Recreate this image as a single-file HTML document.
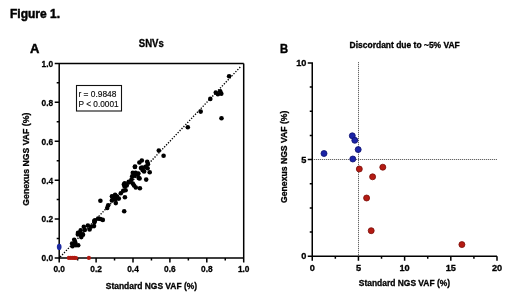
<!DOCTYPE html><html><head><meta charset="utf-8"><style>html,body{margin:0;padding:0;background:#fff;width:520px;height:295px;overflow:hidden}svg{display:block;will-change:transform}text{font-family:"Liberation Sans", sans-serif;font-weight:bold;fill:#000;stroke:#000;stroke-width:0.3px}</style></head><body>
<svg width="520" height="295" viewBox="0 0 520 295">
<rect width="520" height="295" fill="#fff"/>
<text x="10" y="18.1" font-size="13" textLength="50" lengthAdjust="spacingAndGlyphs" style="stroke-width:0.5px">Figure 1.</text>
<text x="30.1" y="52.8" font-size="13" style="stroke-width:0.45px">A</text>
<text x="280.0" y="52.8" font-size="13" textLength="8.1" lengthAdjust="spacingAndGlyphs" style="stroke-width:0.45px">B</text>
<text x="138.8" y="46.9" font-size="10" textLength="25" lengthAdjust="spacingAndGlyphs">SNVs</text>
<text x="349.6" y="48.2" font-size="8.4" textLength="110.2" lengthAdjust="spacingAndGlyphs">Discordant due to ~5% VAF</text>
<line x1="60.2" y1="257.0" x2="240.9325" y2="66.31900000000002" stroke="#000" stroke-width="1.35" stroke-dasharray="1.3 1.5"/>
<path d="M59.2 63.4V262.5 M54.7 258.0H243.7 M54.7 63.4H243.7 M243.7 63.4V262.5 M56.7 238.54H59.2 M77.65 258.0V260.5 M54.7 219.08H59.2 M96.10 258.0V262.5 M56.7 199.62H59.2 M114.55 258.0V260.5 M54.7 180.16H59.2 M133.00 258.0V262.5 M56.7 160.70H59.2 M151.45 258.0V260.5 M54.7 141.24H59.2 M169.90 258.0V262.5 M56.7 121.78H59.2 M188.35 258.0V260.5 M54.7 102.32H59.2 M206.80 258.0V262.5 M56.7 82.86H59.2 M225.25 258.0V260.5" stroke="#000" stroke-width="1.5" fill="none"/>
<circle cx="229.1" cy="76.30000000000001" r="2.3" fill="#000"/>
<circle cx="215.8" cy="92.60000000000001" r="2.3" fill="#000"/>
<circle cx="217.9" cy="94.30000000000001" r="2.3" fill="#000"/>
<circle cx="220.2" cy="91.2" r="2.3" fill="#000"/>
<circle cx="221.3" cy="93.80000000000001" r="2.3" fill="#000"/>
<circle cx="210.3" cy="98.9" r="2.3" fill="#000"/>
<circle cx="200.7" cy="111.60000000000001" r="2.3" fill="#000"/>
<circle cx="221.5" cy="118.2" r="2.3" fill="#000"/>
<circle cx="187.8" cy="127.30000000000001" r="2.3" fill="#000"/>
<circle cx="158.8" cy="150.5" r="2.3" fill="#000"/>
<circle cx="163.6" cy="155.7" r="2.3" fill="#000"/>
<circle cx="141.8" cy="160.5" r="2.3" fill="#000"/>
<circle cx="139.4" cy="162.5" r="2.3" fill="#000"/>
<circle cx="147.2" cy="161.8" r="2.3" fill="#000"/>
<circle cx="147.9" cy="164.2" r="2.3" fill="#000"/>
<circle cx="135" cy="166.6" r="2.3" fill="#000"/>
<circle cx="142.1" cy="167.6" r="2.3" fill="#000"/>
<circle cx="145.5" cy="166.9" r="2.3" fill="#000"/>
<circle cx="147.6" cy="168.3" r="2.3" fill="#000"/>
<circle cx="149.7" cy="172.2" r="2.3" fill="#000"/>
<circle cx="142.8" cy="170.3" r="2.3" fill="#000"/>
<circle cx="144.1" cy="171.4" r="2.3" fill="#000"/>
<circle cx="146.2" cy="179.6" r="2.3" fill="#000"/>
<circle cx="138" cy="174.1" r="2.3" fill="#000"/>
<circle cx="138.7" cy="177.9" r="2.3" fill="#000"/>
<circle cx="134.9" cy="167" r="2.3" fill="#000"/>
<circle cx="141" cy="168" r="2.3" fill="#000"/>
<circle cx="132.8" cy="172.8" r="2.3" fill="#000"/>
<circle cx="135.6" cy="172.8" r="2.3" fill="#000"/>
<circle cx="138.3" cy="173.5" r="2.3" fill="#000"/>
<circle cx="132.2" cy="176.2" r="2.3" fill="#000"/>
<circle cx="139.6" cy="178.5" r="2.3" fill="#000"/>
<circle cx="131.5" cy="179.6" r="2.3" fill="#000"/>
<circle cx="128.8" cy="181.9" r="2.3" fill="#000"/>
<circle cx="124.7" cy="183.3" r="2.3" fill="#000"/>
<circle cx="132.8" cy="183.6" r="2.3" fill="#000"/>
<circle cx="134.1" cy="185.5" r="2.3" fill="#000"/>
<circle cx="135.8" cy="187.5" r="2.3" fill="#000"/>
<circle cx="139.9" cy="188.2" r="2.3" fill="#000"/>
<circle cx="134.8" cy="175.8" r="2.3" fill="#000"/>
<circle cx="123.9" cy="184.4" r="2.3" fill="#000"/>
<circle cx="124.6" cy="186.4" r="2.3" fill="#000"/>
<circle cx="128.6" cy="182.4" r="2.3" fill="#000"/>
<circle cx="126.7" cy="185.5" r="2.3" fill="#000"/>
<circle cx="123.2" cy="190.8" r="2.3" fill="#000"/>
<circle cx="125.6" cy="190.2" r="2.3" fill="#000"/>
<circle cx="120.8" cy="193.2" r="2.3" fill="#000"/>
<circle cx="124.9" cy="197.3" r="2.3" fill="#000"/>
<circle cx="112" cy="196.3" r="2.3" fill="#000"/>
<circle cx="115.1" cy="194.9" r="2.3" fill="#000"/>
<circle cx="116.8" cy="196.3" r="2.3" fill="#000"/>
<circle cx="114.1" cy="198.3" r="2.3" fill="#000"/>
<circle cx="118.8" cy="198.6" r="2.3" fill="#000"/>
<circle cx="124.2" cy="211.2" r="2.3" fill="#000"/>
<circle cx="100.4" cy="200.8" r="2.3" fill="#000"/>
<circle cx="108.2" cy="205.3" r="2.3" fill="#000"/>
<circle cx="107.2" cy="208" r="2.3" fill="#000"/>
<circle cx="112.2" cy="196.8" r="2.3" fill="#000"/>
<circle cx="111.9" cy="200.5" r="2.3" fill="#000"/>
<circle cx="115.6" cy="199.2" r="2.3" fill="#000"/>
<circle cx="115.8" cy="203.1" r="2.3" fill="#000"/>
<circle cx="95.1" cy="220.3" r="2.3" fill="#000"/>
<circle cx="98.2" cy="218.6" r="2.3" fill="#000"/>
<circle cx="100.4" cy="219.0" r="2.3" fill="#000"/>
<circle cx="102.8" cy="219.9" r="2.3" fill="#000"/>
<circle cx="94.4" cy="222.3" r="2.3" fill="#000"/>
<circle cx="78" cy="232.9" r="2.3" fill="#000"/>
<circle cx="80.7" cy="230.2" r="2.3" fill="#000"/>
<circle cx="82.1" cy="234.3" r="2.3" fill="#000"/>
<circle cx="83.8" cy="226.8" r="2.3" fill="#000"/>
<circle cx="84.8" cy="229.9" r="2.3" fill="#000"/>
<circle cx="87.9" cy="225.5" r="2.3" fill="#000"/>
<circle cx="89.6" cy="229.5" r="2.3" fill="#000"/>
<circle cx="90.9" cy="226.8" r="2.3" fill="#000"/>
<circle cx="94" cy="226.1" r="2.3" fill="#000"/>
<circle cx="94.3" cy="220.7" r="2.3" fill="#000"/>
<circle cx="74.2" cy="239.8" r="2.3" fill="#000"/>
<circle cx="72.1" cy="243.5" r="2.3" fill="#000"/>
<circle cx="72.5" cy="246.2" r="2.3" fill="#000"/>
<circle cx="75.9" cy="245.2" r="2.3" fill="#000"/>
<circle cx="78.2" cy="245.2" r="2.3" fill="#000"/>
<circle cx="75.2" cy="242.2" r="2.3" fill="#000"/>
<circle cx="77.9" cy="234.4" r="2.3" fill="#000"/>
<circle cx="81.3" cy="237.1" r="2.3" fill="#000"/>
<circle cx="80.3" cy="234" r="2.3" fill="#000"/>
<circle cx="83" cy="234.7" r="2.3" fill="#000"/>
<ellipse cx="59.2" cy="246.9" rx="2.35" ry="3.1" fill="#1d2aa0"/>
<circle cx="68.8" cy="257.9" r="2.1" fill="#b01a12"/>
<circle cx="70.8" cy="257.9" r="2.1" fill="#b01a12"/>
<circle cx="72.8" cy="257.9" r="2.1" fill="#b01a12"/>
<circle cx="74.6" cy="257.9" r="2.1" fill="#b01a12"/>
<circle cx="76.0" cy="258.0" r="2.1" fill="#b01a12"/>
<circle cx="88.9" cy="257.9" r="2.1" fill="#b01a12"/>
<rect x="76.5" y="85.5" width="45" height="25.5" fill="#fff" stroke="#111" stroke-width="1.1"/>
<text x="78.4" y="96.6" font-size="8.9" font-weight="normal" style="font-weight:normal;stroke:#222;stroke-width:0.15px" textLength="38" lengthAdjust="spacingAndGlyphs">r = 0.9848</text>
<text x="78.6" y="107.1" font-size="8.9" font-weight="normal" style="font-weight:normal;stroke:#222;stroke-width:0.15px" textLength="40" lengthAdjust="spacingAndGlyphs">P &lt; 0.0001</text>
<text x="53.2" y="261.40" font-size="9.5" text-anchor="end" textLength="11.6" lengthAdjust="spacingAndGlyphs">0.0</text>
<text x="59.20" y="272.4" font-size="9.5" text-anchor="middle" textLength="11.6" lengthAdjust="spacingAndGlyphs">0.0</text>
<text x="53.2" y="222.48" font-size="9.5" text-anchor="end" textLength="11.6" lengthAdjust="spacingAndGlyphs">0.2</text>
<text x="96.10" y="272.4" font-size="9.5" text-anchor="middle" textLength="11.6" lengthAdjust="spacingAndGlyphs">0.2</text>
<text x="53.2" y="183.56" font-size="9.5" text-anchor="end" textLength="11.6" lengthAdjust="spacingAndGlyphs">0.4</text>
<text x="133.00" y="272.4" font-size="9.5" text-anchor="middle" textLength="11.6" lengthAdjust="spacingAndGlyphs">0.4</text>
<text x="53.2" y="144.64" font-size="9.5" text-anchor="end" textLength="11.6" lengthAdjust="spacingAndGlyphs">0.6</text>
<text x="169.90" y="272.4" font-size="9.5" text-anchor="middle" textLength="11.6" lengthAdjust="spacingAndGlyphs">0.6</text>
<text x="53.2" y="105.72" font-size="9.5" text-anchor="end" textLength="11.6" lengthAdjust="spacingAndGlyphs">0.8</text>
<text x="206.80" y="272.4" font-size="9.5" text-anchor="middle" textLength="11.6" lengthAdjust="spacingAndGlyphs">0.8</text>
<text x="53.2" y="66.80" font-size="9.5" text-anchor="end" textLength="11.6" lengthAdjust="spacingAndGlyphs">1.0</text>
<text x="243.70" y="272.4" font-size="9.5" text-anchor="middle" textLength="11.6" lengthAdjust="spacingAndGlyphs">1.0</text>
<text x="105.8" y="288.6" font-size="9" textLength="91.3" lengthAdjust="spacingAndGlyphs">Standard NGS VAF (%)</text>
<text x="0" y="0" font-size="9" textLength="93" lengthAdjust="spacingAndGlyphs" transform="translate(29.4 205.7) rotate(-90)">Genexus NGS VAF (%)</text>
<path d="M358.5 62V256M312 159.5H497" stroke="#dcdcdc" stroke-width="1"/>
<path d="M358.5 62V256M312 159.5H497" stroke="#666" stroke-width="1" stroke-dasharray="1 1"/>
<path d="M312.25 62.199999999999996V260.75 M307.75 256.25H497.0 M309.75 232.08H312.25 M309.75 207.91H312.25 M309.75 183.74H312.25 M307.75 159.57H312.25 M309.75 135.41H312.25 M309.75 111.24H312.25 M309.75 87.07H312.25 M307.75 62.90H312.25 M335.34 256.25V258.75 M358.44 256.25V260.75 M381.53 256.25V258.75 M404.62 256.25V260.75 M427.72 256.25V258.75 M450.81 256.25V260.75 M473.91 256.25V258.75 M497.00 256.25V260.75" stroke="#000" stroke-width="1.5" fill="none"/>
<circle cx="324" cy="153.5" r="3.0" fill="#1a23a6" stroke="#0c106e" stroke-width="0.8"/>
<circle cx="352.3" cy="135.8" r="3.0" fill="#1a23a6" stroke="#0c106e" stroke-width="0.8"/>
<circle cx="354.8" cy="140.3" r="3.0" fill="#1a23a6" stroke="#0c106e" stroke-width="0.8"/>
<circle cx="358.2" cy="149.6" r="3.0" fill="#1a23a6" stroke="#0c106e" stroke-width="0.8"/>
<circle cx="352.8" cy="159.0" r="3.0" fill="#1a23a6" stroke="#0c106e" stroke-width="0.8"/>
<circle cx="359.3" cy="169" r="3.0" fill="#b41a12" stroke="#7a0d08" stroke-width="0.8"/>
<circle cx="382.8" cy="167.2" r="3.0" fill="#b41a12" stroke="#7a0d08" stroke-width="0.8"/>
<circle cx="372.6" cy="176.8" r="3.0" fill="#b41a12" stroke="#7a0d08" stroke-width="0.8"/>
<circle cx="366.6" cy="198" r="3.0" fill="#b41a12" stroke="#7a0d08" stroke-width="0.8"/>
<circle cx="371.2" cy="230.7" r="3.0" fill="#b41a12" stroke="#7a0d08" stroke-width="0.8"/>
<circle cx="461.9" cy="244.6" r="3.0" fill="#b41a12" stroke="#7a0d08" stroke-width="0.8"/>
<text x="306.4" y="259.45" font-size="9.2" text-anchor="end">0</text>
<text x="306.4" y="162.77" font-size="9.2" text-anchor="end">5</text>
<text x="306.4" y="66.10" font-size="9.2" text-anchor="end">10</text>
<text x="312.25" y="270.7" font-size="9.2" text-anchor="middle">0</text>
<text x="358.44" y="270.7" font-size="9.2" text-anchor="middle">5</text>
<text x="404.62" y="270.7" font-size="9.2" text-anchor="middle">10</text>
<text x="450.81" y="270.7" font-size="9.2" text-anchor="middle">15</text>
<text x="497.00" y="270.7" font-size="9.2" text-anchor="middle">20</text>
<text x="358.8" y="285.6" font-size="9" textLength="91.3" lengthAdjust="spacingAndGlyphs">Standard NGS VAF (%)</text>
<text x="0" y="0" font-size="9" textLength="92.3" lengthAdjust="spacingAndGlyphs" transform="translate(287 202.9) rotate(-90)">Genexus NGS VAF (%)</text>
</svg></body></html>
